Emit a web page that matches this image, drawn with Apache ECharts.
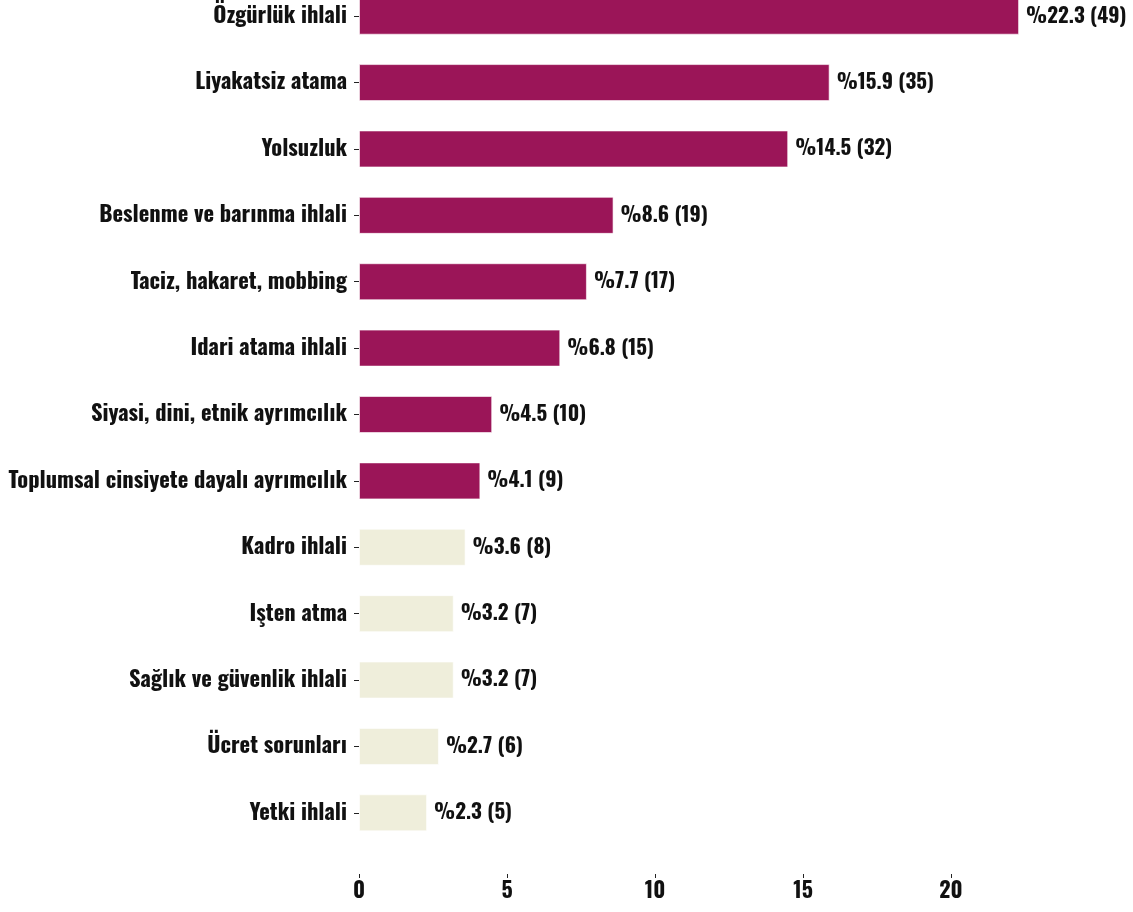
<!DOCTYPE html>
<html>
<head>
<meta charset="utf-8">
<script src="https://cdn.jsdelivr.net/npm/echarts@6/dist/echarts.min.js"></script>
<style>
  html, body { margin: 0; padding: 0; background: #ffffff; }
  #chart { width: 1133px; height: 912px; }
</style>
</head>
<body>
<div id="chart"></div>
<script>
// data (top to bottom)
var categories = [
  'Özgürlük ihlali',
  'Liyakatsiz atama',
  'Yolsuzluk',
  'Beslenme ve barınma ihlali',
  'Taciz, hakaret, mobbing',
  'Idari atama ihlali',
  'Siyasi, dini, etnik ayrımcılık',
  'Toplumsal cinsiyete dayalı ayrımcılık',
  'Kadro ihlali',
  'Işten atma',
  'Sağlık ve güvenlik ihlali',
  'Ücret sorunları',
  'Yetki ihlali'
];
var percents = [22.3, 15.9, 14.5, 8.6, 7.7, 6.8, 4.5, 4.1, 3.6, 3.2, 3.2, 2.7, 2.3];
var counts = [49, 35, 32, 19, 17, 15, 10, 9, 8, 7, 7, 6, 5];
var xTicks = [0, 5, 10, 15, 20];
var highlightCount = 8; // first bars drawn in the dark colour

var font = 'Oswald, "Roboto Condensed", sans-serif';
var chart = echarts.init(document.getElementById('chart'));

var barData = percents.map(function (v, i) {
  return {
    value: v,
    itemStyle: { color: i < highlightCount ? '#9b1558' : '#efeedb' }
  };
});

var option = {
  backgroundColor: '#ffffff',
  animation: false,
  grid: {
    left: 359, right: 34, top: -17, bottom: 66,
    containLabel: false,
    outerBoundsMode: 'none'
  },
  xAxis: {
    type: 'value',
    min: 0,
    max: 25,
    offset: 28,
    splitLine: { show: false },
    axisLine: { show: false },
    axisTick: { show: true, length: 4, customValues: xTicks, lineStyle: { color: '#222' } },
    axisLabel: {
      margin: 6,
      color: '#111',
      fontFamily: font,
      fontWeight: 'bold',
      fontSize: 22,
      customValues: xTicks
    }
  },
  yAxis: {
    type: 'category',
    inverse: true,
    data: categories,
    axisLine: { show: false },
    axisTick: { show: true, length: 5, alignWithLabel: true, lineStyle: { color: '#222' } },
    axisLabel: {
      margin: 12,
      color: '#111',
      fontFamily: font,
      fontWeight: 'bold',
      fontSize: 22.5
    }
  },
  series: [{
    type: 'bar',
    data: barData,
    barWidth: 37,
    itemStyle: { borderColor: 'rgba(255,255,255,0.6)', borderWidth: 1 },
    label: {
      show: true,
      position: 'right',
      distance: 7,
      color: '#111',
      fontFamily: font,
      fontWeight: 'bold',
      fontSize: 21,
      formatter: function (p) {
        return '%' + percents[p.dataIndex] + ' (' + counts[p.dataIndex] + ')';
      }
    }
  }]
};

chart.setOption(option);
</script>
</body>
</html>
